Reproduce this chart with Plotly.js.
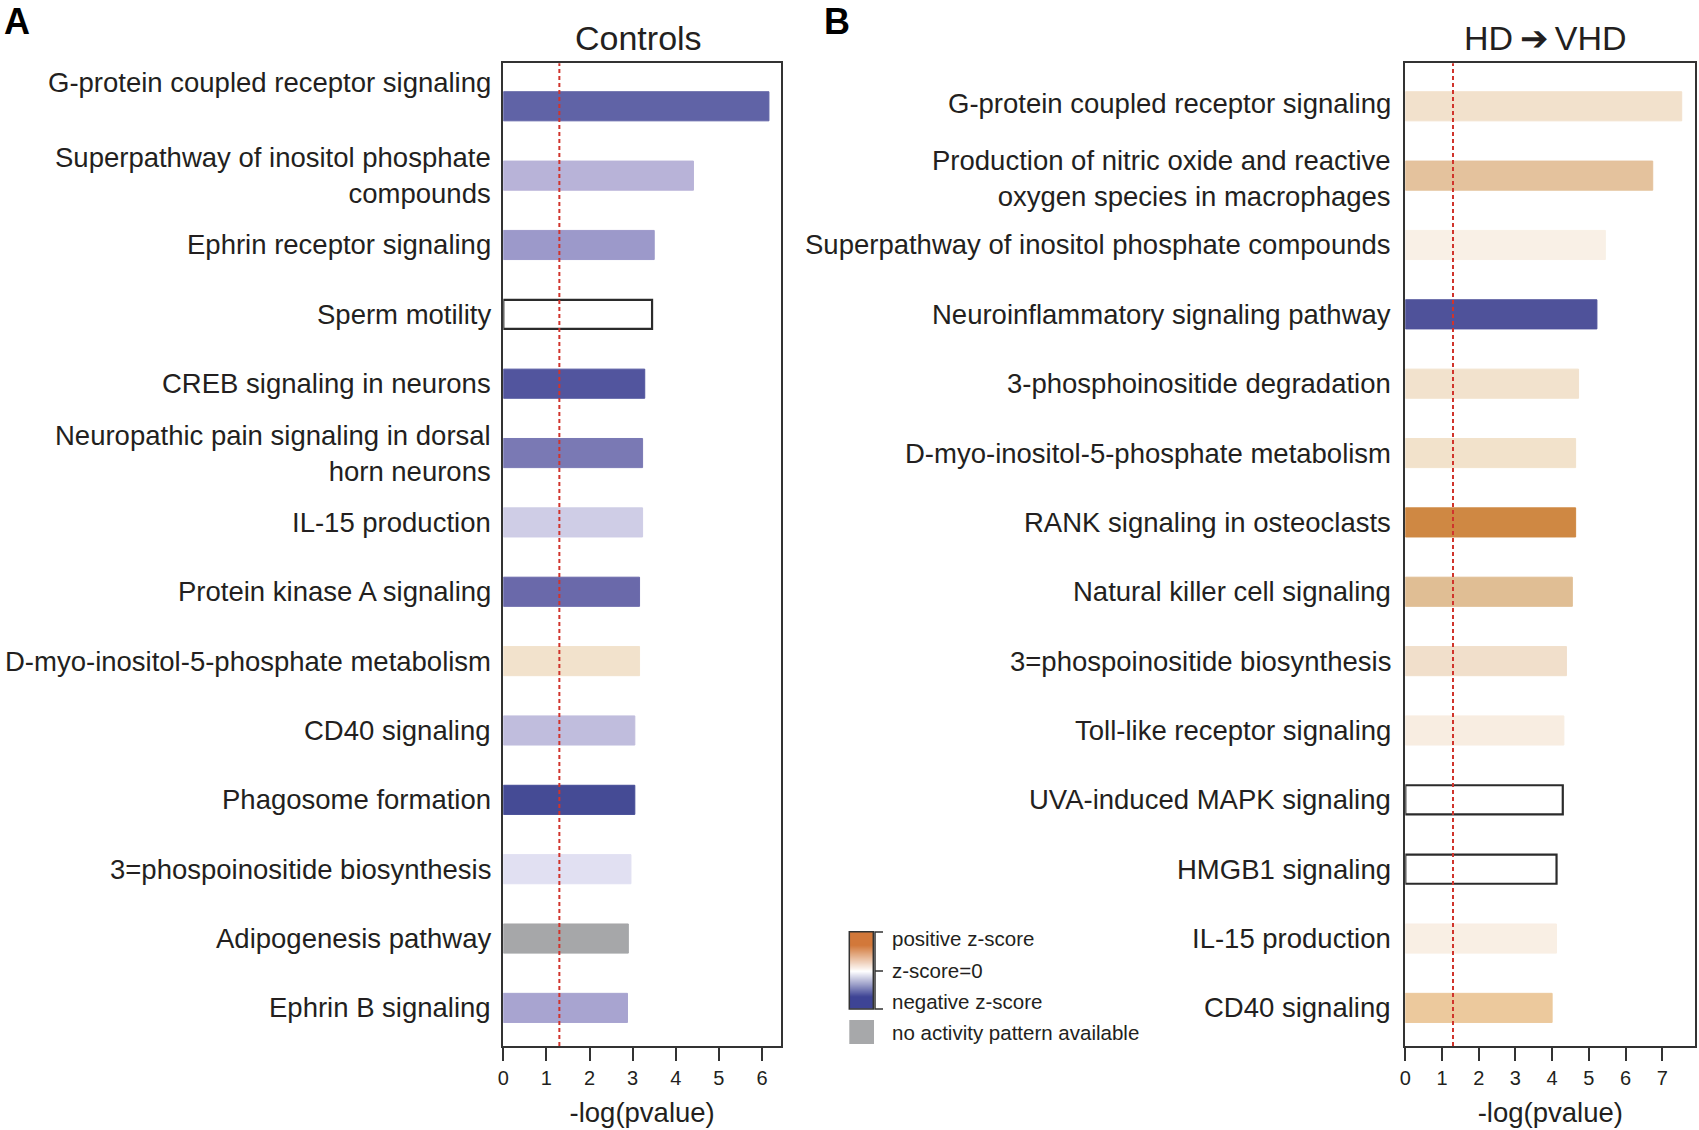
<!DOCTYPE html>
<html>
<head>
<meta charset="utf-8">
<script src="https://cdn.plot.ly/plotly-3.0.1.min.js"></script>
<style>html,body{margin:0;padding:0;background:#fff;}</style>
</head>
<body>
<div id="chart" style="width:1699px;height:1130px;"></div>
<script>
// ---------- data ----------
const categoriesA = [
  "G-protein coupled receptor signaling",
  "Superpathway of inositol phosphate<br>compounds",
  "Ephrin receptor signaling",
  "Sperm motility",
  "CREB signaling in neurons",
  "Neuropathic pain signaling in dorsal<br>horn neurons",
  "IL-15 production",
  "Protein kinase A signaling",
  "D-myo-inositol-5-phosphate metabolism",
  "CD40 signaling",
  "Phagosome formation",
  "3=phospoinositide biosynthesis",
  "Adipogenesis pathway",
  "Ephrin B signaling"
];
const valuesA = [6.16, 4.41, 3.50, 3.45, 3.28, 3.23, 3.23, 3.16, 3.16, 3.05, 3.05, 2.96, 2.90, 2.88];
const colorsA = ["#6063a6", "#b8b3d8", "#9c99ca", "#ffffff", "#52559e", "#7a79b4", "#cfcde6",
                 "#6a69aa", "#f2e2cc", "#c0bddd", "#454b95", "#e1e0f2", "#a6a7a9", "#a8a4d0"];

const categoriesB = [
  "G-protein coupled receptor signaling",
  "Production of nitric oxide and reactive<br>oxygen species in macrophages",
  "Superpathway of inositol phosphate compounds",
  "Neuroinflammatory signaling pathway",
  "3-phosphoinositide degradation",
  "D-myo-inositol-5-phosphate metabolism",
  "RANK signaling in osteoclasts",
  "Natural killer cell signaling",
  "3=phospoinositide biosynthesis",
  "Toll-like receptor signaling",
  "UVA-induced MAPK signaling",
  "HMGB1 signaling",
  "IL-15 production",
  "CD40 signaling"
];
const valuesB = [7.53, 6.74, 5.45, 5.22, 4.72, 4.64, 4.64, 4.55, 4.39, 4.32, 4.29, 4.12, 4.12, 4.00];
const colorsB = ["#f2e1cc", "#e4c29d", "#f9f0e6", "#4f529a", "#f2e2cd", "#f2e2cb", "#cf8843",
                 "#e0be94", "#f1dfcb", "#f8ede1", "#ffffff", "#ffffff", "#f9efe4", "#ecc99d"];

const tickValsA = [0, 1, 2, 3, 4, 5, 6];
const tickValsB = [0, 1, 2, 3, 4, 5, 6, 7];
const THRESHOLD = 1.3; // -log10(0.05)

const legendLabels = ["positive z-score", "z-score=0", "negative z-score", "no activity pattern available"];
const legendGradientZ = [[-1, -1], [0, 0], [1, 1]];

// ---------- style ----------
const FONT = "Liberation Sans, Arial, Helvetica, sans-serif";
const TXT = "#231f20";
const AX = "#333333";
const W = 1699, H = 1130;
const px = v => v / W;
const py = v => (H - v) / H;
const LABEL_SIZE = 27.5;

function lineColors(cols) {
  return cols.map(c => c === "#ffffff" ? "#2b2b2b" : c);
}
function lineWidths(cols) {
  return cols.map(c => c === "#ffffff" ? 2.2 : 1);
}

const traces = [
  {
    type: "bar", orientation: "h", x: valuesA, y: categoriesA, xaxis: "x", yaxis: "y",
    width: 0.42,
    marker: { color: colorsA, line: { color: lineColors(colorsA), width: lineWidths(colorsA) } },
    hoverinfo: "x+y"
  },
  {
    type: "bar", orientation: "h", x: valuesB, y: categoriesB, xaxis: "x2", yaxis: "y2",
    width: 0.42,
    marker: { color: colorsB, line: { color: lineColors(colorsB), width: lineWidths(colorsB) } },
    hoverinfo: "x+y"
  },
  {
    type: "heatmap", z: legendGradientZ, xaxis: "x3", yaxis: "y3", zsmooth: "best",
    colorscale: [[0, "#3e4495"], [0.5, "#ffffff"], [1, "#d2783a"]],
    showscale: false, hoverinfo: "skip"
  }
];

function xAxis(domain, range, ticks, anchor) {
  return {
    domain: domain, range: range, anchor: anchor,
    tickmode: "array", tickvals: ticks,
    ticks: "outside", ticklen: 13, tickwidth: 2, tickcolor: AX,
    showline: true, linewidth: 2, linecolor: AX, mirror: true,
    showgrid: false, zeroline: false,
    tickfont: { size: 20, color: TXT, family: FONT },
    title: { text: "-log(pvalue)", font: { size: 27.5, color: TXT, family: FONT }, standoff: 15 },
    fixedrange: true
  };
}
function yAxis(cats, anchor) {
  return {
    domain: [0.0743, 0.944], anchor: anchor, type: "category",
    categoryorder: "array", categoryarray: cats,
    range: [cats.length - 1 + 0.55, -0.62],
    showticklabels: false, ticks: "",
    showline: true, linewidth: 2, linecolor: AX, mirror: true,
    showgrid: false, zeroline: false, fixedrange: true
  };
}

const shiftA = [24, 0, 0, 0, 0, 0, 0, 0, 0, 0, 0, 0, 0, 0];
const shiftB = [3, -3, 0, 0, 0, 0, 0, 0, 0, 0, 0, 0, 0, 0];
const annotations = [];
categoriesA.forEach((c, i) => {
  annotations.push({
    xref: "paper", x: px(493), xanchor: "right", yref: "y", y: c,
    text: c, showarrow: false, align: "right", yshift: shiftA[i],
    font: { size: LABEL_SIZE, color: TXT, family: FONT }
  });
});
categoriesB.forEach((c, i) => {
  annotations.push({
    xref: "paper", x: px(1393), xanchor: "right", yref: "y2", y: c,
    text: c, showarrow: false, align: "right", yshift: shiftB[i],
    font: { size: LABEL_SIZE, color: TXT, family: FONT }
  });
});
// panel letters
annotations.push({ xref: "paper", yref: "paper", x: px(2), y: py(21), xanchor: "left", yanchor: "middle",
  text: "<b>A</b>", showarrow: false, font: { size: 36, color: "#000", family: FONT } });
annotations.push({ xref: "paper", yref: "paper", x: px(822), y: py(21), xanchor: "left", yanchor: "middle",
  text: "<b>B</b>", showarrow: false, font: { size: 36, color: "#000", family: FONT } });
// panel titles
annotations.push({ xref: "paper", yref: "paper", x: px(638), y: py(38), xanchor: "center", yanchor: "middle",
  text: "Controls", showarrow: false, font: { size: 34, color: TXT, family: FONT } });
annotations.push({ xref: "paper", yref: "paper", x: px(1545), y: py(38), xanchor: "center", yanchor: "middle",
  text: "HD\u2009\u2794\u2009VHD", showarrow: false, font: { size: 34, color: TXT, family: FONT } });
// legend texts
const legendY = [938, 970, 1001, 1032];
legendLabels.forEach((t, i) => {
  annotations.push({ xref: "paper", yref: "paper", x: px(889.5), y: py(legendY[i]), xanchor: "left", yanchor: "middle",
    text: t, showarrow: false, font: { size: 20.5, color: TXT, family: FONT } });
});

const bx = px(875), bx2 = px(883);
const shapes = [
  { type: "line", xref: "x", yref: "y domain", x0: THRESHOLD, x1: THRESHOLD, y0: 0, y1: 1,
    line: { color: "#d0342c", width: 2, dash: "4px,3px" } },
  { type: "line", xref: "x2", yref: "y2 domain", x0: THRESHOLD, x1: THRESHOLD, y0: 0, y1: 1,
    line: { color: "#d0342c", width: 2, dash: "4px,3px" } },
  { type: "rect", xref: "x3 domain", yref: "y3 domain", x0: 0, x1: 1, y0: 0, y1: 1,
    line: { color: AX, width: 1.5 } },
  { type: "path", xref: "paper", yref: "paper",
    path: `M ${bx2},${py(932)} L ${bx},${py(932)} L ${bx},${py(1009)} L ${bx2},${py(1009)} M ${bx},${py(971)} L ${bx2},${py(971)}`,
    line: { color: AX, width: 1.5 } },
  { type: "rect", xref: "paper", yref: "paper", x0: px(849.3), x1: px(874), y0: py(1044), y1: py(1020),
    fillcolor: "#a7a8aa", line: { width: 0 } }
];

const layout = {
  width: W, height: H,
  margin: { l: 0, r: 0, t: 0, b: 0 },
  paper_bgcolor: "#ffffff", plot_bgcolor: "#ffffff",
  showlegend: false,
  font: { family: FONT, color: TXT },
  bargap: 0,
  xaxis: xAxis([px(503.3), px(781)], [0, 6.44], tickValsA, "y"),
  yaxis: yAxis(categoriesA, "x"),
  xaxis2: xAxis([px(1405.3), px(1695.3)], [0, 7.9], tickValsB, "y2"),
  yaxis2: yAxis(categoriesB, "x2"),
  xaxis3: { domain: [px(849.3), px(873.3)], anchor: "y3", range: [-0.5, 1.5], visible: false, fixedrange: true },
  yaxis3: { domain: [py(1009), py(931.7)], anchor: "x3", range: [-0.5, 2.5], visible: false, fixedrange: true },
  shapes: shapes,
  annotations: annotations
};

Plotly.newPlot("chart", traces, layout, { displayModeBar: false, staticPlot: true });
</script>
</body>
</html>
